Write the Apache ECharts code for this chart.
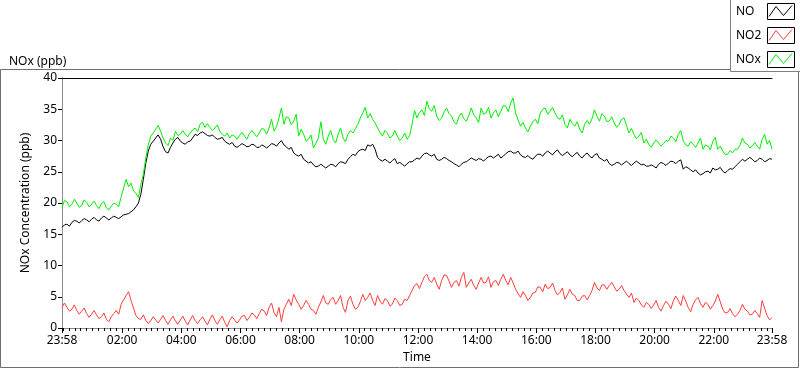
<!DOCTYPE html>
<html><head><meta charset="utf-8">
<script src="https://cdn.jsdelivr.net/npm/echarts@6/dist/echarts.min.js"></script>
<style>html,body{margin:0;padding:0;background:#fff}#c{width:800px;height:369px}</style>
</head><body><div id="c"></div>
<script>
// sampling: one value every 5 minutes, starting at 23:58
const stepMinutes = 5;
const NO = [
16.1,16.5,16.6,16.3,16.9,17.2,17.1,16.8,17.2,17.5,17.3,17.0,17.4,17.7,17.3,17.1,17.6,17.9,17.6,17.3,17.6,17.9,17.7,17.5,
17.8,18.1,18.2,18.3,18.6,18.9,19.4,20.0,21.4,23.8,26.4,28.3,29.4,29.9,30.4,30.9,30.2,29.0,28.2,28.0,28.9,29.6,30.2,30.5,
29.9,29.6,29.4,29.8,29.9,30.4,31.0,30.8,31.2,31.4,31.1,30.8,30.7,30.9,30.5,30.2,30.3,30.5,29.9,29.6,29.4,29.7,29.1,28.9,
29.2,29.5,29.3,29.0,29.1,29.4,29.3,28.9,28.9,29.3,29.1,28.8,29.1,29.5,29.4,29.1,29.6,30.0,29.3,29.0,28.6,28.9,28.0,27.7,
27.5,27.8,27.0,26.7,26.4,26.6,26.1,25.8,25.9,26.2,25.9,25.6,25.9,26.2,26.1,25.8,26.3,26.6,26.5,26.3,27.0,27.4,27.8,27.6,
28.2,28.5,28.6,28.4,29.3,29.1,29.4,28.6,27.3,26.9,26.7,27.0,26.7,26.4,26.8,27.1,26.3,26.5,26.2,25.9,26.3,26.6,26.6,26.9,
27.2,27.0,27.5,27.9,28.0,27.7,27.5,27.8,27.0,26.8,27.0,27.3,27.1,26.8,26.6,26.3,26.1,25.8,26.2,26.5,26.6,26.9,27.2,27.0,
26.8,27.1,27.0,26.7,27.1,27.4,27.5,27.2,27.5,27.8,27.2,27.5,27.9,28.2,28.3,28.0,28.0,28.3,27.7,27.4,27.3,27.6,27.2,27.0,
27.5,27.8,27.8,27.5,28.0,28.3,28.0,27.7,28.2,28.5,27.9,27.6,27.9,28.2,27.7,27.4,27.8,28.1,27.5,27.2,27.7,28.0,27.5,27.2,
27.7,27.9,27.2,27.0,26.7,27.0,26.3,26.0,26.2,26.5,26.4,26.1,26.4,26.7,26.3,26.0,26.4,26.7,26.4,26.1,26.2,25.9,25.9,26.1,
25.9,25.6,26.2,26.5,26.3,26.0,26.4,26.7,26.6,26.3,26.7,26.9,25.4,25.8,25.6,25.3,25.0,25.3,24.8,24.5,24.7,25.0,25.1,24.8,
25.6,25.3,25.4,25.7,25.1,24.8,25.2,25.5,25.4,25.8,26.2,26.6,27.0,26.7,27.0,27.3,27.0,26.6,26.8,27.2,27.0,26.6,26.8,27.1,
27.0];
const NO2 = [
3.3,4.0,3.3,2.7,3.0,3.7,2.8,2.2,2.7,3.2,2.3,1.7,2.2,2.8,2.1,1.5,1.8,2.4,1.4,1.0,1.8,2.3,2.8,2.2,
3.8,4.5,5.2,5.8,4.4,3.2,2.0,1.5,1.4,2.1,1.2,0.7,1.2,1.8,1.3,0.8,1.4,2.0,1.2,0.6,1.3,1.9,1.1,0.6,
1.3,1.9,1.1,0.5,1.3,2.0,1.2,0.7,1.3,1.8,1.1,0.5,1.4,2.1,1.2,0.6,1.3,1.9,0.9,0.2,1.2,1.8,1.3,0.8,
1.3,1.9,2.0,1.2,1.7,2.4,2.1,1.5,2.3,3.0,2.7,2.0,3.3,4.0,2.5,1.8,3.3,1.0,3.0,3.8,4.6,3.6,5.4,4.5,
3.8,3.0,3.6,4.4,3.8,3.0,2.8,2.2,3.3,4.2,5.2,4.0,3.8,4.6,4.9,3.8,4.4,5.2,3.3,2.5,4.4,5.1,3.8,3.0,
3.3,4.2,5.4,4.4,4.9,5.6,4.4,3.6,5.2,4.3,3.8,4.7,4.4,3.5,3.8,4.8,4.4,3.6,3.8,4.6,4.4,5.2,6.0,6.8,
7.1,6.3,7.3,8.2,8.6,7.6,7.3,8.1,7.0,6.2,7.6,8.5,8.4,7.5,6.5,7.3,7.6,6.7,8.1,8.9,6.5,7.2,7.8,6.8,
6.2,7.2,8.1,7.2,7.3,8.2,6.5,7.4,7.6,6.8,7.8,8.6,7.6,6.9,8.1,7.2,6.2,5.5,4.9,5.8,5.2,4.4,4.9,5.6,
5.7,6.6,6.5,5.8,7.0,6.3,6.5,7.2,6.0,5.3,5.7,6.4,4.6,5.3,6.2,5.4,5.2,4.4,4.4,5.1,5.2,4.5,5.2,6.0,
7.3,6.4,6.0,6.9,6.9,6.2,6.8,7.3,6.6,5.9,6.2,6.8,6.0,5.4,4.9,5.6,4.1,4.8,4.4,3.7,3.3,4.1,3.8,3.1,
3.7,4.4,3.3,2.7,3.6,4.3,3.8,3.1,4.4,5.1,4.4,3.6,5.2,4.3,3.3,2.6,3.8,4.5,4.9,3.9,3.3,4.1,3.8,3.0,
3.6,4.3,5.4,4.2,3.0,2.4,2.5,3.1,2.3,1.8,2.2,2.8,3.8,3.0,2.7,2.1,2.2,2.8,2.3,1.7,4.4,3.2,2.0,1.3,
1.7];
const NOx = [
19.3,20.4,20.2,19.4,19.8,20.6,20.0,19.3,19.6,20.5,20.1,19.4,19.8,20.3,19.6,19.1,19.9,20.2,19.2,18.9,19.5,20.0,19.8,19.4,
21.0,22.4,23.8,22.6,23.2,22.0,21.5,20.9,23.0,24.6,27.2,29.3,30.7,31.2,31.8,32.4,31.5,30.4,29.6,29.2,30.4,30.0,31.5,30.8,
31.0,31.6,31.0,30.6,31.2,31.7,32.0,31.4,32.6,32.9,32.1,32.7,32.1,31.6,32.0,32.5,31.5,31.0,30.7,31.2,30.4,30.9,30.7,30.2,
30.8,31.3,30.7,30.2,31.1,31.6,31.1,30.6,31.2,31.9,31.8,31.0,32.0,33.4,31.5,32.2,33.6,35.2,32.6,33.8,33.6,32.5,33.1,34.2,
30.7,31.8,31.0,29.9,30.2,30.9,28.8,29.6,30.4,33.0,30.2,29.4,30.7,31.6,30.2,29.6,31.0,32.0,30.4,29.8,31.0,31.6,31.2,31.9,
32.6,33.6,34.4,35.3,33.6,34.3,33.4,32.8,32.0,31.3,30.7,31.6,31.2,30.4,30.7,31.6,30.7,30.0,30.4,31.2,30.2,30.8,32.6,34.8,
33.6,34.5,34.9,34.0,36.3,35.0,34.7,35.6,33.9,33.2,33.6,34.6,35.2,34.3,33.9,33.0,32.6,33.8,34.4,33.5,33.1,34.0,35.2,34.1,
33.6,32.9,35.2,34.2,34.4,35.3,33.6,34.4,34.9,33.8,34.7,35.6,35.5,34.6,36.0,36.8,34.4,33.3,32.3,32.9,32.0,31.4,32.3,33.0,
33.4,32.7,34.4,35.0,35.2,34.2,34.7,35.3,34.4,33.6,33.4,34.1,32.6,32.0,33.4,32.7,32.3,33.0,31.8,31.2,32.6,33.2,32.6,33.5,
34.9,33.9,33.1,34.3,33.9,33.0,33.1,33.8,32.8,32.1,32.6,33.4,33.6,32.4,31.2,31.9,31.0,30.3,30.7,31.3,29.6,30.2,29.4,28.9,
29.6,30.1,29.6,29.1,29.5,30.0,29.9,30.7,30.4,29.8,31.0,31.6,29.9,29.3,29.1,29.8,29.4,28.9,29.6,30.4,28.6,29.3,29.1,28.5,
29.9,30.5,28.6,29.1,28.3,27.8,27.8,28.4,28.0,28.6,28.6,29.2,30.4,29.6,29.4,28.8,29.1,29.7,29.1,28.6,30.2,31.0,29.4,30.0,
28.6];
// tick labels and their positions (minutes after 23:58)
const tickLabels = ['23:58','02:00','04:00','06:00','08:00','10:00','12:00','14:00','16:00','18:00','20:00','22:00','23:58'];
const tickMinutes = [0,122,242,362,482,602,722,842,962,1082,1202,1322,1440];
const minorTickMinutes = [];
for (let m = 2; m < 1440; m += 12) minorTickMinutes.push(m);

const FONT = 'Noto Sans';
const toPairs = arr => arr.map((v, i) => [i * stepMinutes, v]);
const labelFor = v => { const i = tickMinutes.indexOf(v); return i >= 0 ? tickLabels[i] : ''; };

const chart = echarts.init(document.getElementById('c'), null, {renderer: 'canvas'});
const legendNames = ['NO', 'NO2', 'NOx'];
const colors = ['#000000', '#ff3c3c', '#00f000'];

const frameGraphics = [
  {type: 'rect', silent: true, shape: {x: 0.5, y: 69.5, width: 798, height: 298}, style: {fill: 'rgba(0,0,0,0)', stroke: '#6e6e6e', lineWidth: 1}, z: 1, zlevel: 0}
];
const legendGraphics = [];
legendGraphics.push({type: 'rect', shape: {x: 730.5, y: -1, width: 70, height: 72.5}, style: {fill: '#fff', stroke: '#808080', lineWidth: 1}, z: 10});
legendNames.forEach((n, i) => {
  const y0 = 3.5 + i * 24;
  legendGraphics.push({type: 'text', x: 736, y: y0 + 8, style: {text: n, fill: '#000', font: '12px "' + FONT + '"', verticalAlign: 'middle'}, z: 11});
  legendGraphics.push({type: 'rect', shape: {x: 767.5, y: y0, width: 27, height: 16}, style: {fill: '#fff', stroke: '#000', lineWidth: 1}, z: 11});
  legendGraphics.push({type: 'polyline', shape: {points: [[769, y0 + 13], [776, y0 + 3], [783.5, y0 + 12], [792, y0 + 2]]}, style: {stroke: colors[i], lineWidth: 1, fill: null}, z: 12});
});

chart.setOption({
  animation: false,
  backgroundColor: '#fff',
  textStyle: {fontFamily: FONT},
  title: {text: 'NOx (ppb)', left: 4, top: 51, textStyle: {fontSize: 12, fontWeight: 'normal', color: '#000', fontFamily: FONT}},
  grid: {left: 62, right: 28, top: 78, bottom: 40},
  xAxis: [
    {type: 'value', min: 0, max: 1440, position: 'bottom',
     name: 'Time', nameLocation: 'middle', nameGap: 24,
     nameTextStyle: {color: '#000', fontSize: 12, fontFamily: FONT},
     axisLine: {show: true, lineStyle: {color: '#8c8c8c', width: 1}},
     axisTick: {show: true, length: 5, customValues: tickMinutes, lineStyle: {color: '#000', width: 1}},
     axisLabel: {show: true, customValues: tickMinutes, formatter: labelFor, color: '#000', fontSize: 12, margin: 7, fontFamily: FONT},
     splitLine: {show: false}},
    {type: 'value', min: 0, max: 1440, position: 'bottom',
     axisLine: {show: false},
     axisTick: {show: true, length: 3, customValues: minorTickMinutes, lineStyle: {color: '#000', width: 1}},
     axisLabel: {show: false}, splitLine: {show: false}},
    {type: 'value', min: 0, max: 1440, position: 'top',
     axisLine: {show: true, lineStyle: {color: '#000', width: 1}},
     axisTick: {show: false}, axisLabel: {show: false}, splitLine: {show: false}}
  ],
  yAxis: [
    {type: 'value', min: 0, max: 40, interval: 5, position: 'left',
     name: 'NOx Concentration (ppb)', nameLocation: 'middle', nameGap: 30, nameRotate: 90,
     nameTextStyle: {color: '#000', fontSize: 12, fontFamily: FONT},
     axisLine: {show: true, lineStyle: {color: '#000', width: 1}},
     axisTick: {show: true, length: 4, lineStyle: {color: '#000'}},
     axisLabel: {color: '#000', fontSize: 12, margin: 5, fontFamily: FONT},
     splitLine: {show: false}},
    {type: 'value', min: 0, max: 40, position: 'right',
     axisLine: {show: true, lineStyle: {color: '#8c8c8c', width: 1}},
     axisTick: {show: false}, axisLabel: {show: false}, splitLine: {show: false}}
  ],
  series: [
    {name: 'NO', type: 'line', data: toPairs(NO), showSymbol: false, lineStyle: {color: colors[0], width: 1}, itemStyle: {color: colors[0]}},
    {name: 'NO2', type: 'line', data: toPairs(NO2), showSymbol: false, lineStyle: {color: colors[1], width: 1}, itemStyle: {color: colors[1]}},
    {name: 'NOx', type: 'line', data: toPairs(NOx), showSymbol: false, lineStyle: {color: colors[2], width: 1}, itemStyle: {color: colors[2]}}
  ],
  graphic: {elements: frameGraphics.concat(legendGraphics)}
});
</script>
</body></html>
